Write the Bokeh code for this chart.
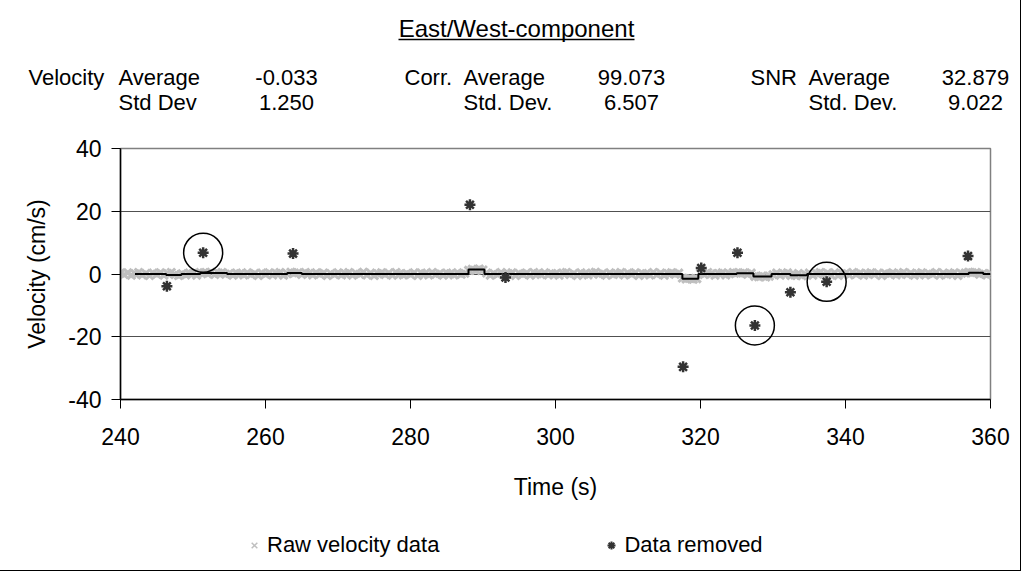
from bokeh.plotting import figure
from bokeh.layouts import column
from bokeh.models import Range1d, FixedTicker, Label, Legend, LegendItem
from bokeh.embed import file_html
from bokeh.resources import INLINE

# ---------------- data ----------------
# raw velocity samples every 0.5 s from 240 s to 360 s
raw_v = [
    0.3, -0.2, 0.4, -0.4, 0.1, 0.5, -0.3, 0.2, -0.5, 0.3, -0.1, 0.4, -0.4, 0.2, 0.5, -0.2, -0.5, 0.1, -0.3, 0.3,
    0.2, -0.4, 0.5, 0.4, 0.1, 0.6, -0.2, 0.3, 0.5, -0.1, 0.2, -0.4, 0.3, 0.1, -0.3, 0.4, -0.2, 0.2, -0.5, 0.3,
    -0.1, 0.4, -0.3, 0.2, 0.5, -0.4, 0.1, 0.6, 0.3, 0.4, -0.2, 0.5, 0.2, -0.3, 0.4, -0.1, 0.3, -0.5, 0.2, -0.2,
    0.4, -0.3, 0.1, 0.5, -0.4, 0.2, -0.1, 0.6, -0.3, 0.3, -0.5, 0.1, 0.4, -0.2, 0.3, -0.4, 0.5, 0.0, -0.3, 0.2,
    -0.2, 0.4, -0.5, 0.3, 0.1, -0.3, 0.5, -0.1, 0.2, -0.4, 0.3, 0.1, -0.3, 0.4, -0.1, 0.2, 1.2, 1.5, 1.1, 1.6,
    1.3, 0.3, -0.4, 0.2, -0.2, 0.5, -0.3, 0.1, 0.4, -0.5, 0.2, -0.1, 0.3, -0.4, 0.5, 0.1, -0.2, 0.4, -0.3, 0.2,
    0.1, -0.4, 0.3, 0.5, -0.2, 0.2, -0.5, 0.4, 0.0, -0.3, 0.3, 0.6, -0.1, 0.2, -0.4, 0.4, -0.2, 0.1, 0.5, -0.3,
    0.3, -0.1, 0.4, -0.5, 0.2, 0.1, -0.3, 0.5, -0.2, 0.3, -0.4, 0.2, 0.4, -0.1, 0.3, -1.3, -1.6, -1.4, -1.7, -1.5,
    0.3, -0.2, 0.5, 0.1, -0.4, 0.2, 0.4, -0.3, 0.1, 0.5, 0.3, 0.2, 0.4, -0.1, 0.3, -0.8, -0.9, -0.6, -1.0, -0.7,
    -0.2, 0.3, -0.4, 0.1, 0.4, -0.5, -0.3, 0.2, -0.6, -0.2, 0.3, -0.4, 0.2, 0.5, -0.1, 0.3, -0.3, 0.4, -0.5, 0.1,
    0.2, -0.3, 0.5, -0.1, 0.3, -0.4, 0.1, 0.4, -0.2, 0.3, -0.5, 0.2, 0.0, 0.4, -0.3, 0.1, 0.5, -0.2, 0.3, -0.4,
    0.1, 0.4, -0.3, 0.2, -0.1, 0.5, -0.4, 0.3, -0.2, 0.1, 0.4, -0.5, 0.2, 0.3, 0.6, 0.4, 0.5, -0.1, 0.2, -0.3,
    0.1,
]
raw_t = [240 + 0.5 * i for i in range(len(raw_v))]

# filtered (cleaned) velocity, drawn as steps
filt_t = [242, 246.3, 248.4, 251, 254.7, 263, 265, 288, 290.2, 317.5, 319.7, 325, 327.3, 329.8, 332.4, 334.7, 357, 359, 360]
filt_v = [0, -0.3, 0, 0.3, 0, 0.3, 0, 1.4, 0, -1.5, 0, 0.2, -0.8, 0, -0.4, 0, 0.4, 0, 0]

# removed spikes
rem_t = [246.4, 251.4, 263.8, 288.2, 293.1, 317.6, 320.1, 325.1, 327.5, 332.4, 337.4, 356.9]
rem_v = [-3.9, 6.8, 6.5, 22.1, -1.1, -29.6, 1.9, 6.8, -16.4, -5.8, -2.5, 5.7]
circled = [1, 8, 10]

x_ticks = [240, 260, 280, 300, 320, 340, 360]
y_ticks = [-40, -20, 0, 20, 40]

stat_names = ["Velocity", "Corr.", "SNR"]
stat_avg_labels = ["Average", "Average", "Average"]
stat_std_labels = ["Std Dev", "Std. Dev.", "Std. Dev."]
stat_avg = [-0.033, 99.073, 32.879]
stat_std = [1.250, 6.507, 9.022]

title_text = "East/West-component"
legend_labels = ["Raw velocity data", "Data removed"]

# ---------------- styling ----------------
FONT = "Liberation Sans"
W = 1020
HEAD_H, MAIN_H, FOOT_H = 128, 384, 58
FL, FR = 120, 990          # frame left / right (px)
FT, FB = 20, 271           # frame top / bottom inside the main figure (px)

RAW = dict(marker="x", size=11, line_color="#bfbfbf", line_width=3)
REM = dict(marker="asterisk", size=11, line_color="#333333", line_width=2.5)


def no_align(f):
    try:
        f.frame_align = False
    except Exception:
        pass


def blank(height):
    f = figure(width=W, height=height, x_range=Range1d(0, W), y_range=Range1d(height, 0),
               x_axis_type=None, y_axis_type=None, output_backend="svg", toolbar_location=None,
               min_border=0, min_border_left=0, min_border_right=0,
               min_border_top=0, min_border_bottom=0)
    f.outline_line_color = None
    f.grid.grid_line_color = None
    f.background_fill_color = "white"
    f.border_fill_color = "white"
    no_align(f)
    return f


# ---------------- header: title + statistics ----------------
head = blank(HEAD_H)
head.add_layout(Label(x=516, y=28, text=title_text, text_align="center", text_baseline="middle",
                      text_font=FONT, text_font_size="24px", text_color="black"))
head.segment(x0=[398], y0=[39], x1=[634], y1=[39], line_color="black", line_width=1.5)

name_x = [28, 404, 750]
avg_lab_x = [118, 463, 808]
val_x = [286, 631, 975]
row1, row2 = 77, 102
common = dict(text_baseline="middle", text_font=FONT, text_font_size="22px", text_color="black")
for i in range(3):
    head.add_layout(Label(x=name_x[i], y=row1, text=stat_names[i], text_align="left", **common))
    head.add_layout(Label(x=avg_lab_x[i], y=row1, text=stat_avg_labels[i], text_align="left", **common))
    head.add_layout(Label(x=avg_lab_x[i], y=row2, text=stat_std_labels[i], text_align="left", **common))
    head.add_layout(Label(x=val_x[i], y=row1, text=f"{stat_avg[i]:.3f}", text_align="center", **common))
    head.add_layout(Label(x=val_x[i], y=row2, text=f"{stat_std[i]:.3f}", text_align="center", **common))

# ---------------- main chart ----------------
p = figure(width=W, height=MAIN_H, x_range=Range1d(240, 360), y_range=Range1d(-40, 40),
           output_backend="svg", toolbar_location=None,
           min_border_left=FL, min_border_right=W - FR,
           min_border_top=FT, min_border_bottom=MAIN_H - FB)
no_align(p)
p.background_fill_color = "white"
p.border_fill_color = "white"
p.outline_line_color = "#808080"
p.outline_line_width = 1.5

p.xaxis.ticker = FixedTicker(ticks=x_ticks)
p.yaxis.ticker = FixedTicker(ticks=y_ticks)
p.xaxis.major_label_overrides = {t: str(t) for t in x_ticks}
p.yaxis.major_label_overrides = {t: str(t) for t in y_ticks}
for ax in (p.xaxis[0], p.yaxis[0]):
    ax.minor_tick_line_color = None
    ax.major_tick_in = 0
    ax.major_tick_out = 9
    ax.major_tick_line_color = "black"
    ax.axis_line_color = "black"
    ax.axis_line_width = 1.5
    ax.major_label_text_font = FONT
    ax.major_label_text_font_size = "23px"
    ax.major_label_text_color = "black"
    ax.axis_label_text_font = FONT
    ax.axis_label_text_font_size = "23px"
    ax.axis_label_text_font_style = "normal"
    ax.axis_label_text_color = "black"
p.xaxis.axis_label = "Time (s)"
p.yaxis.axis_label = "Velocity (cm/s)"
p.xaxis.major_label_standoff = 19
p.xaxis.axis_label_standoff = 26
p.yaxis.major_label_standoff = 10
p.yaxis.axis_label_standoff = 15

p.xgrid.grid_line_color = None
p.ygrid.ticker = FixedTicker(ticks=y_ticks)
p.ygrid.grid_line_color = "#505050"
p.ygrid.grid_line_width = 1

p.scatter(raw_t, raw_v, **RAW)
p.step(filt_t, filt_v, mode="after", line_color="black", line_width=2)
p.scatter(rem_t, rem_v, **REM)
p.scatter([rem_t[i] for i in circled], [rem_v[i] for i in circled], marker="circle", size=39,
          fill_color=None, line_color="black", line_width=1.5)

# ---------------- footer: legend ----------------
foot = blank(FOOT_H)
# legend proxies (kept outside the footer's visible range)
lr1 = foot.scatter(x=[-50], y=[-50], marker="x", size=11, line_color="#bfbfbf", line_width=1.5)
lr2 = foot.scatter(x=[-50], y=[-50], marker="asterisk", size=11, line_color="#333333", line_width=2)
legend = Legend(items=[LegendItem(label=legend_labels[0], renderers=[lr1]),
                       LegendItem(label=legend_labels[1], renderers=[lr2])],
                orientation="horizontal", location=(244, 12), spacing=162,
                label_standoff=3, glyph_width=20, glyph_height=20, padding=0, margin=0,
                border_line_color=None, background_fill_alpha=0,
                label_text_font=FONT, label_text_font_size="22px", label_text_color="black")
foot.add_layout(legend, "center")

layout = column(head, p, foot, spacing=0, styles={"outline": "1px solid black"})

open("out.html", "w").write(file_html(layout, INLINE))
